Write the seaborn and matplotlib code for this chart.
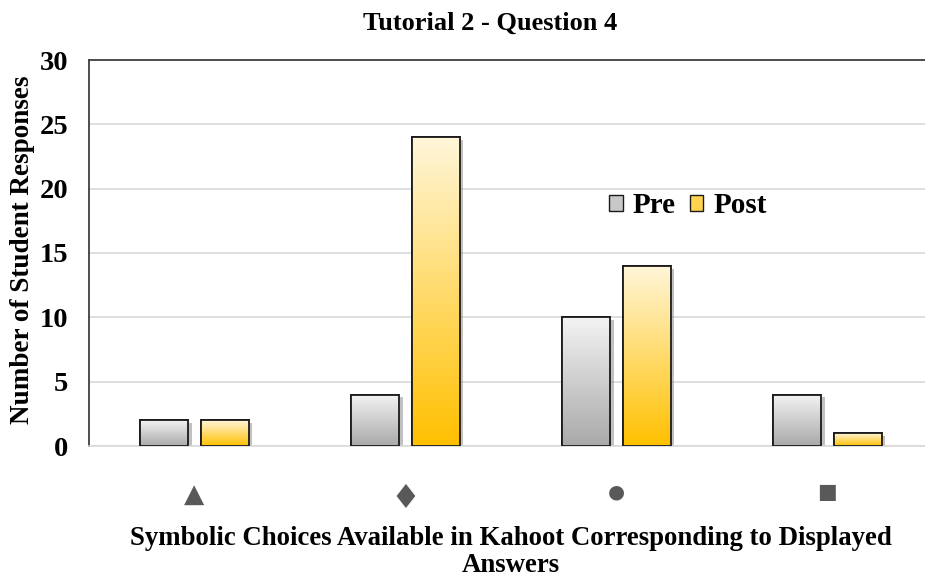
import numpy as np
import pandas as pd
import matplotlib
matplotlib.use("Agg")
import matplotlib.pyplot as plt
import matplotlib.patheffects as pe
from matplotlib.colors import LinearSegmentedColormap
from matplotlib.patches import Rectangle
import seaborn as sns

# Chart values
symbols = ["\u25B2", "\u2666", "\u25CF", "\u25A0"]
phases = ["Pre", "Post"]
pre_counts = [2, 4, 10, 4]
post_counts = [2, 24, 14, 1]
y_ticks = [0, 5, 10, 15, 20, 25, 30]

df = pd.DataFrame({
    "choice": symbols * 2,
    "phase": ["Pre"] * 4 + ["Post"] * 4,
    "count": pre_counts + post_counts,
})

sns.set_style("white")
plt.rcParams["font.family"] = ["Liberation Serif", "DejaVu Sans"]
plt.rcParams["font.weight"] = "bold"
plt.rcParams["text.color"] = "black"
plt.rcParams["axes.labelcolor"] = "black"
plt.rcParams["ytick.color"] = "black"

fig = plt.figure(figsize=(9.25, 5.79), dpi=100)
ax = fig.add_axes([89 / 925, 133 / 579, 844 / 925, 386 / 579])

flat = {"Pre": "#c8c8c8", "Post": "#ffd34d"}
sns.barplot(data=df, x="choice", y="count", hue="phase", order=symbols,
            hue_order=phases, palette=flat, width=0.57, gap=0.2,
            edgecolor="#1a1a1a", linewidth=1.3, ax=ax, legend=False, zorder=2)

# vertical gradient fill inside each bar
grad = {
    "Pre": LinearSegmentedColormap.from_list("g", ["#a9a9a9", "#f3f3f3"]),
    "Post": LinearSegmentedColormap.from_list("y", ["#ffc000", "#fff6d9"]),
}
ramp = np.linspace(0, 1, 256).reshape(-1, 1)
bars = [p for p in ax.patches if isinstance(p, Rectangle) and p.get_height() > 0]
bars = sorted(bars, key=lambda p: p.get_x())
for i, p in enumerate(bars):
    phase = "Pre" if i % 2 == 0 else "Post"
    x, w, h = p.get_x(), p.get_width(), p.get_height()
    p.set_path_effects([pe.SimplePatchShadow(offset=(2.5, -2), shadow_rgbFace="#777777",
                                             alpha=0.45), pe.Normal()])
    im = ax.imshow(ramp, cmap=grad[phase], extent=[x, x + w, 0, h], origin="lower",
                   aspect="auto", zorder=2.5, interpolation="bilinear")
    im.set_clip_path(p)
    ax.add_patch(Rectangle((x, 0), w, h, fill=False, edgecolor="#1a1a1a",
                           linewidth=1.3, zorder=3))

ax.set_xlim(-0.5, 3.5)
ax.set_ylim(0, 30)
ax.set_yticks(y_ticks)
ax.yaxis.grid(True, color="#d9d9d9", linewidth=1.2, zorder=0)
ax.set_axisbelow(True)
ax.tick_params(axis="y", length=0, pad=15, labelsize=20.5)
ax.tick_params(axis="x", length=0, pad=26, labelsize=17, labelcolor="#595959")
for lab, s in zip(ax.get_xticklabels(), [19, 24, 14, 15]):
    lab.set_fontsize(s)
    lab.set_family("DejaVu Sans")
for lab in ax.get_yticklabels():
    lab.set_fontweight("bold")

for side in ["left", "top"]:
    ax.spines[side].set_color("#404040")
    ax.spines[side].set_linewidth(1.3)
ax.spines["bottom"].set_color("#d9d9d9")
ax.spines["bottom"].set_linewidth(1.2)
ax.spines["right"].set_visible(False)

ax.set_xlabel("Symbolic Choices Available in Kahoot Corresponding to Displayed\nAnswers",
              fontsize=19.3, fontweight="bold", linespacing=1.12)
ax.xaxis.set_label_coords(0.5, -0.207)
ax.set_ylabel("Number of Student Responses", fontsize=19.5, fontweight="bold")
ax.yaxis.set_label_coords(-0.064, 0.508)
fig.text(490 / 925, 1 - 23 / 579, "Tutorial 2 - Question 4", ha="center", va="center",
         fontsize=19, fontweight="bold")

handles = [Rectangle((0, 0), 1, 1, facecolor=flat[k], edgecolor="#1a1a1a", linewidth=1)
           for k in phases]
leg = ax.legend(handles, phases, ncol=2, frameon=False, loc="center",
                bbox_to_anchor=(0.71, 0.622), handlelength=0.45, handleheight=0.45,
                handletextpad=0.35, columnspacing=0.5,
                prop={"family": "Liberation Serif", "weight": "bold", "size": 21})

fig.savefig("out.png", dpi=100)
